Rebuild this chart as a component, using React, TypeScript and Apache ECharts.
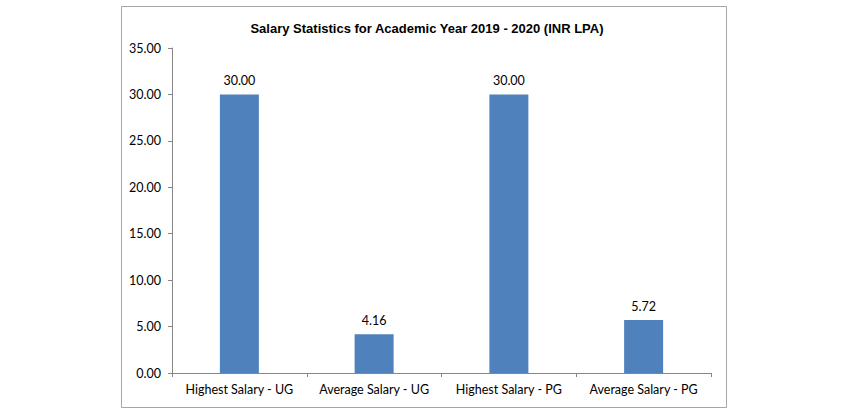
import React, { useEffect, useRef } from "react";
import * as echarts from "echarts";

const categories = ["Highest Salary - UG", "Average Salary - UG", "Highest Salary - PG", "Average Salary - PG"];
const salaries = [30.0, 4.16, 30.0, 5.72];
const titleText = "Salary Statistics for Academic Year 2019 - 2020 (INR LPA)";

const labelFont = "Lato, Open Sans, sans-serif";

export default function App() {
  const ref = useRef<HTMLDivElement>(null);
  useEffect(() => {
    if (!ref.current) return;
    const chart = echarts.init(ref.current, null, { renderer: "svg" });
    chart.setOption({
      animation: false,
      backgroundColor: "#ffffff",
      title: {
        text: titleText,
        left: 422,
        textAlign: "center",
        top: 17,
        textStyle: { fontFamily: "Liberation Sans, Arial", fontWeight: "bold", fontSize: 13, color: "#000" },
      },
      graphic: [
        {
          type: "rect",
          shape: { x: 121.5, y: 6.5, width: 605, height: 401 },
          style: { fill: "none", stroke: "#a6a6a6", lineWidth: 1 },
          silent: true,
        },
      ],
      grid: { left: 172, right: 137, top: 48, bottom: 39, containLabel: false },
      xAxis: {
        type: "category",
        data: categories,
        axisLine: { lineStyle: { color: "#868686" } },
        axisTick: { show: true, length: 4, lineStyle: { color: "#868686" } },
        axisLabel: { color: "#000", fontSize: 12.5, fontFamily: labelFont, margin: 10, interval: 0 },
      },
      yAxis: {
        type: "value",
        min: 0,
        max: 35,
        interval: 5,
        axisLine: { show: true, lineStyle: { color: "#868686" } },
        axisTick: { show: true, length: 4, lineStyle: { color: "#868686" } },
        splitLine: { show: false },
        axisLabel: {
          color: "#000",
          fontSize: 12.5,
          fontFamily: labelFont,
          margin: 11,
          formatter: (v: number) => v.toFixed(2),
        },
      },
      series: [
        {
          type: "bar",
          data: salaries,
          barWidth: 39,
          itemStyle: { color: "#4F81BD" },
          label: {
            show: true,
            position: "top",
            distance: 7,
            color: "#000",
            fontSize: 12.5,
            fontFamily: labelFont,
            formatter: (p: any) => p.value.toFixed(2),
          },
        },
      ],
    });
    return () => chart.dispose();
  }, []);
  return <div ref={ref} style={{ position: "fixed", left: 0, top: 0, width: 848, height: 412 }} />;
}
